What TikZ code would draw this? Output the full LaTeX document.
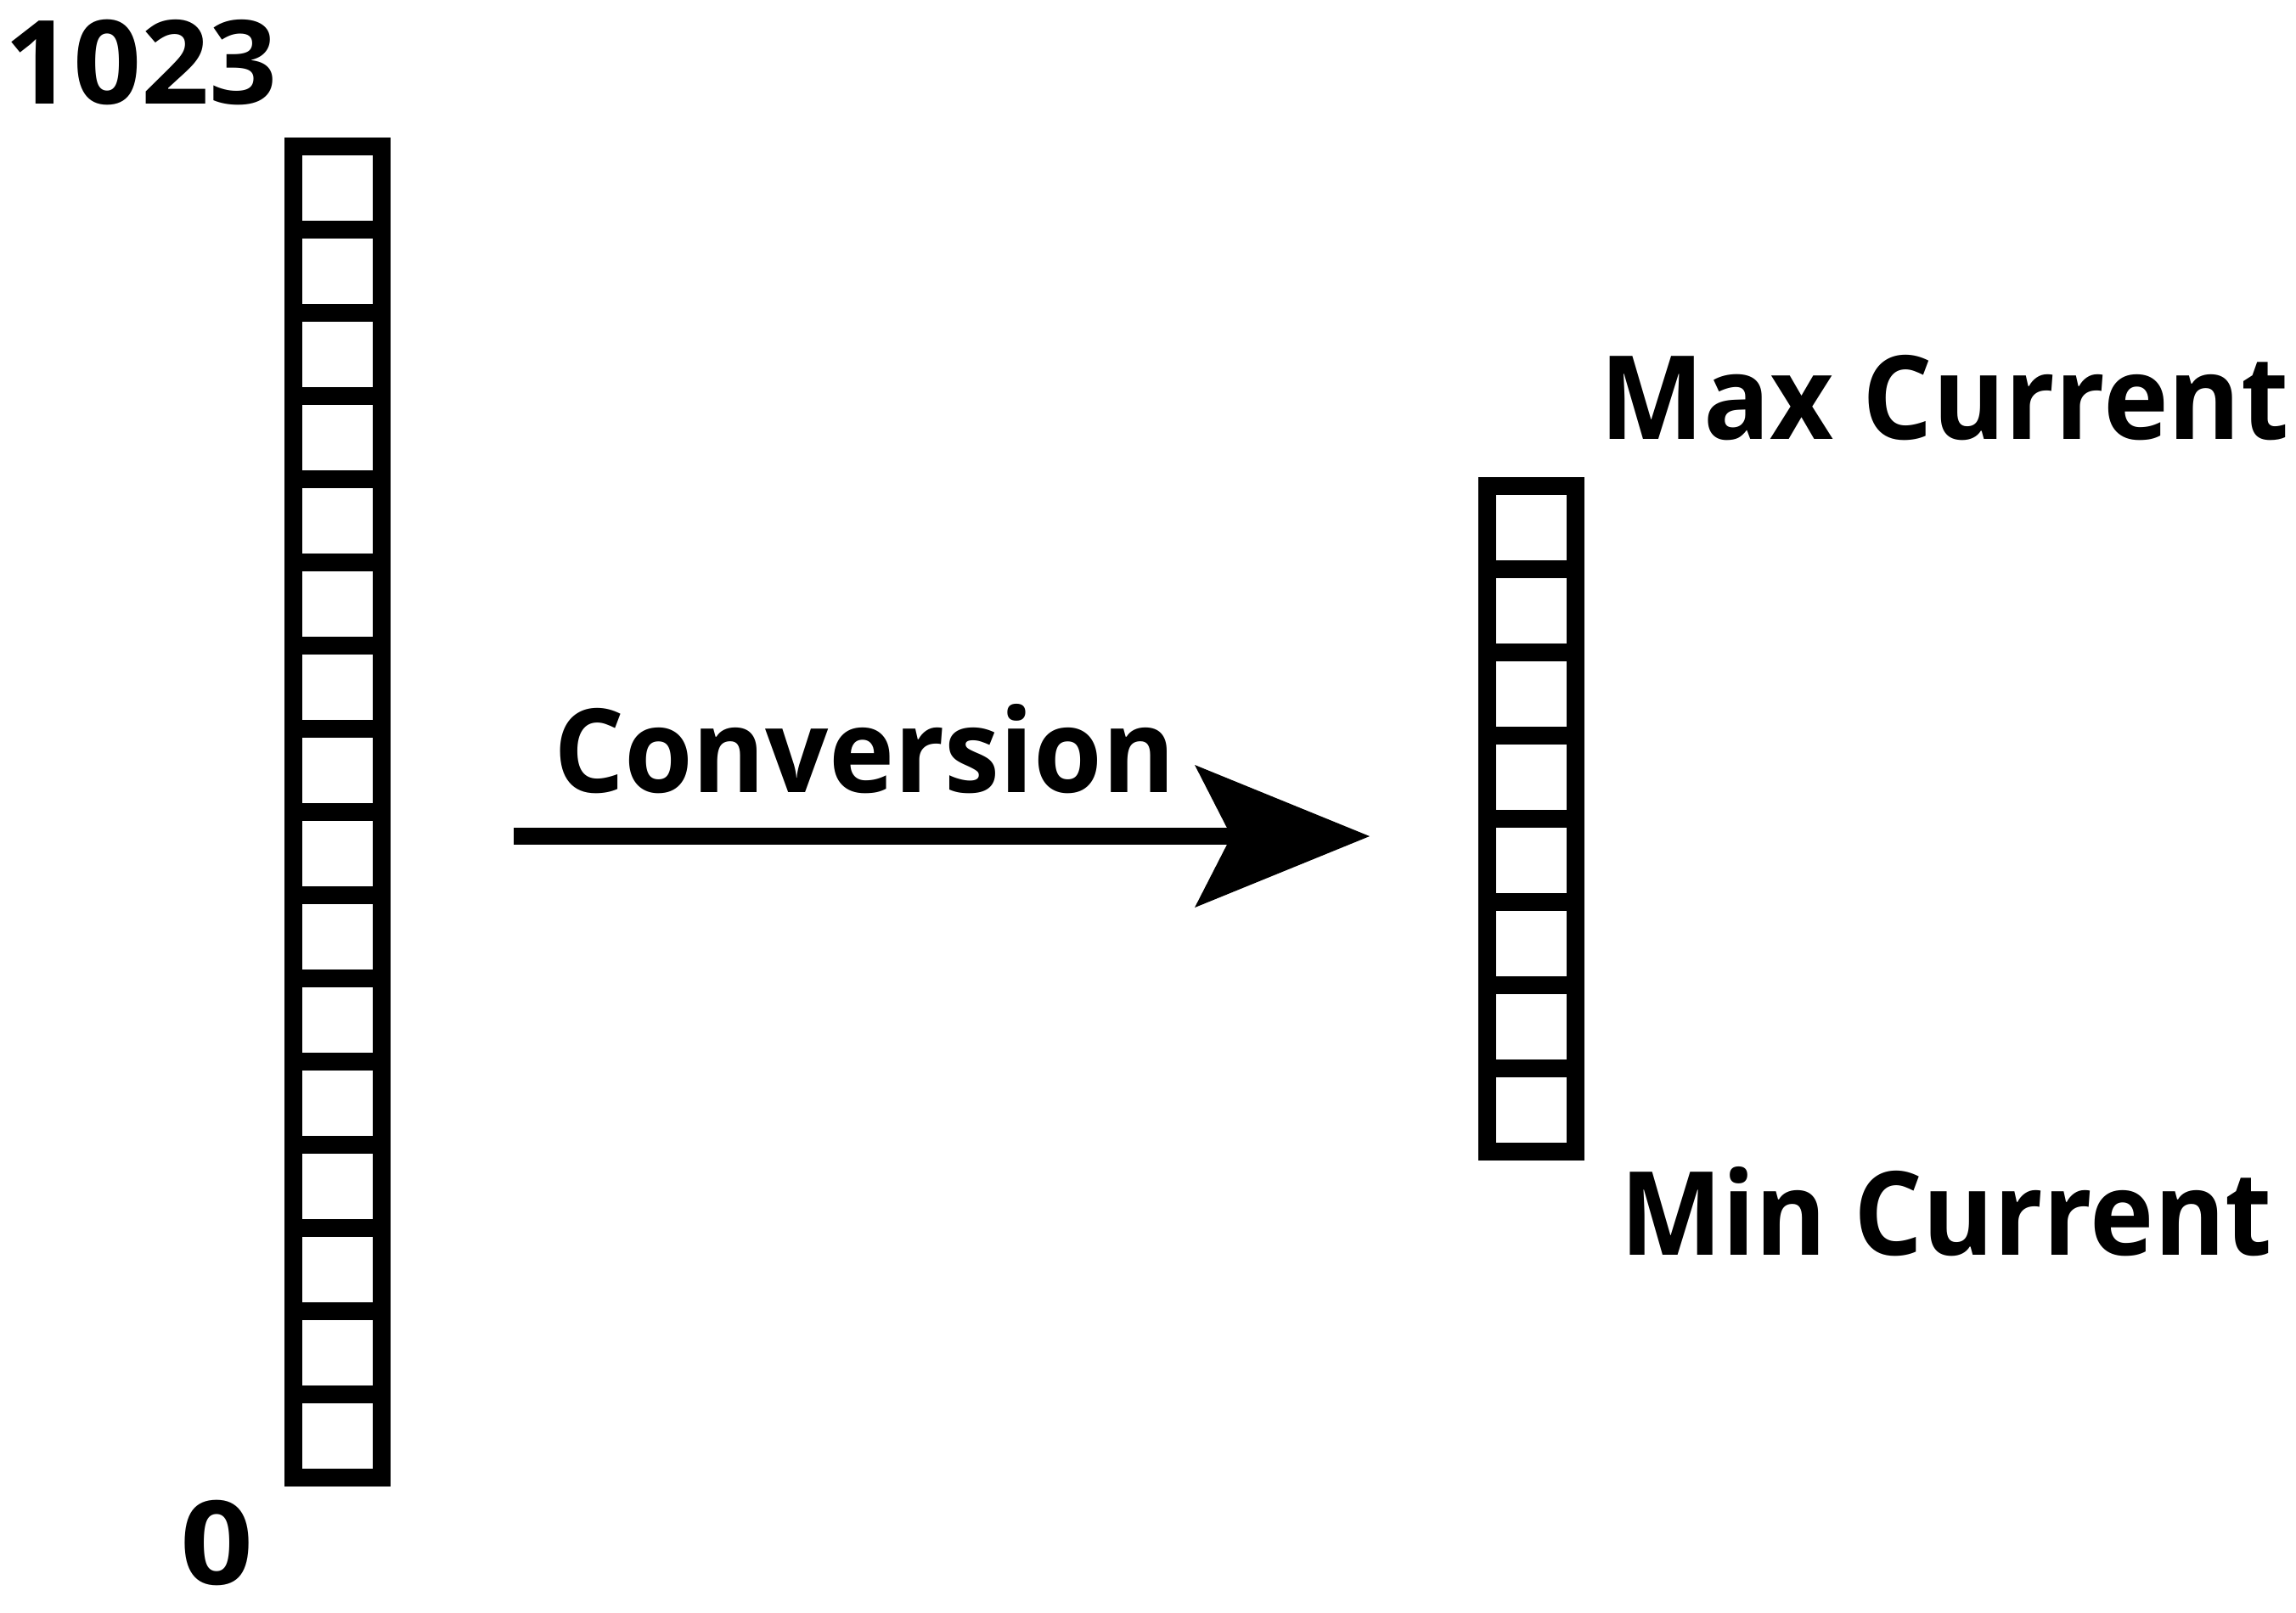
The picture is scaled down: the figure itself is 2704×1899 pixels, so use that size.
\documentclass[tikz,border=0pt]{standalone}
\usepackage{graphicx}
\usepackage{fontspec}
\newfontfamily\lblfont{Open Sans}
\begin{document}
\begin{tikzpicture}[x=0.25pt,y=-0.25pt,
  cell/.style={draw,line width=5.25pt,rectangle,inner sep=0pt,outer sep=0pt,
    minimum width=26.1pt,minimum height=24.5pt},
  lbl/.style={inner sep=0pt,outer sep=0pt,anchor=base west,font=\lblfont\bfseries\fontsize{34.25pt}{40pt}\selectfont}
]
\useasboundingbox (0,0) rectangle (2704,1899);
% left column: 16 cells
\foreach \i in {0,...,15}{
  \node[cell] (L\i) at (397.25,{172.8+98*(\i+0.5)}) {};
}
% right column: 8 cells
\foreach \i in {0,...,7}{
  \node[cell] (R\i) at (1803.5,{572.8+98*(\i+0.5)}) {};
}
% labels
\node[lbl] (t1023) at (6,122) {\scalebox{1.025}[1]{1023}};
\node[lbl] (t0) at (212,1866) {\scalebox{1.1}[1]{0}};
\node[lbl] (tconv) at (652,933) {\scalebox{0.953}[1]{Conversion}};
\node[lbl] (tmax) at (1884,517) {\scalebox{0.948}[1]{Max Current}};
\node[lbl] (tmin) at (1908,1478) {\scalebox{0.93}[1]{Min Current}};
% arrow
\coordinate (aS) at (605,985);
\coordinate (aN) at (1460,985);
\coordinate (aT) at (1613,985);
\draw[line width=5.2pt] (aS) -- (aN);
\fill (aT) -- (1407,901) -- (1450,985) -- (1407,1069) -- cycle;
\end{tikzpicture}
\end{document}
